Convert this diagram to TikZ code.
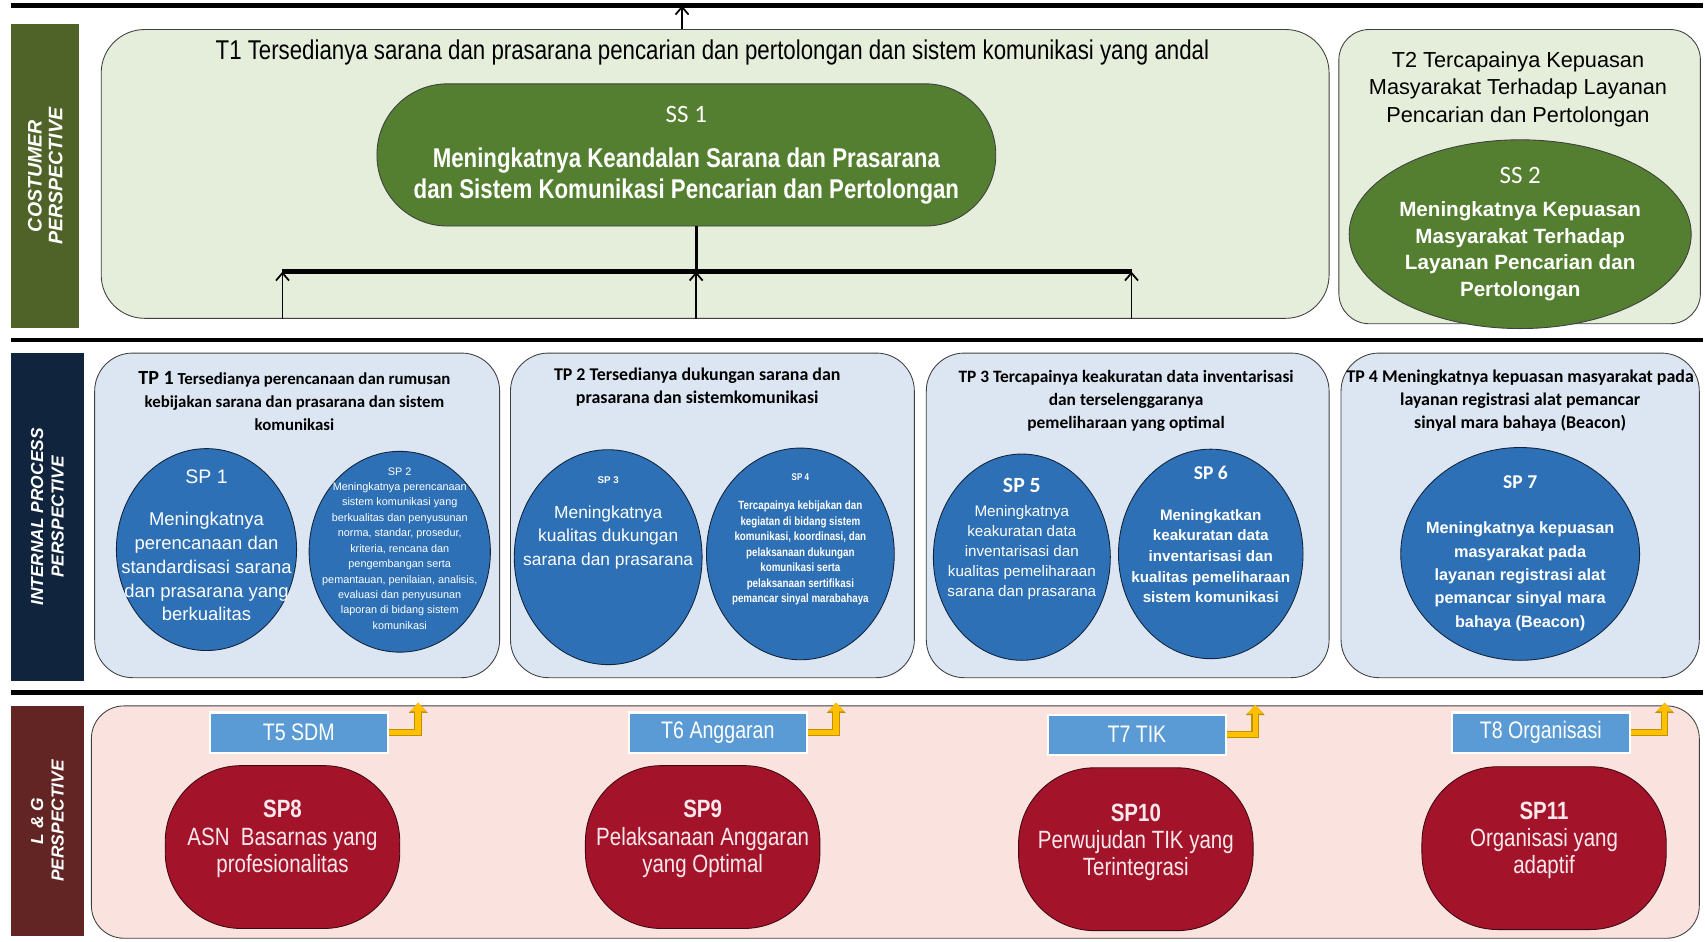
\documentclass[tikz,border=0pt]{standalone}
\usepackage{fontspec}
\setmainfont{Liberation Sans}
\newfontfamily\narrowfont{Liberation Sans}[FakeStretch=0.82]
\newfontfamily\califont{Carlito}
\usetikzlibrary{arrows.meta,shapes.geometric}
\definecolor{custband}{RGB}{79,98,40}
\definecolor{intband}{RGB}{16,36,62}
\definecolor{lgband}{RGB}{99,37,35}
\definecolor{goalgreen}{RGB}{228,238,218}
\definecolor{ssgreen}{RGB}{84,127,48}
\definecolor{tpblue}{RGB}{220,230,242}
\definecolor{spblue}{RGB}{46,112,182}
\definecolor{lgpink}{RGB}{250,226,222}
\definecolor{spred}{RGB}{163,20,42}
\definecolor{sgwhite}{RGB}{252,232,236}
\definecolor{tagblue}{RGB}{91,155,213}
\definecolor{arrowgold}{RGB}{255,192,0}
\definecolor{arrowedge}{RGB}{191,144,0}
\definecolor{edgegray}{RGB}{64,64,64}

\begin{document}
\begin{tikzpicture}[scale=1.000000,x=1pt,y=-1pt,
  bandlabel/.style={fill=#1,rotate=90,inner sep=0pt,align=center,text=white,font=\bfseries\itshape\fontsize{16}{19}\selectfont},
  goalbox/.style={draw=edgegray,fill=#1,line width=0.8pt,inner sep=0pt},
  titletext/.style={inner sep=0pt,align=center,text=black},
  sspill/.style={draw=edgegray,fill=ssgreen,line width=0.8pt,inner sep=0pt,text=white,align=center},
  spoval/.style={ellipse,draw=intband,fill=spblue,line width=0.8pt,inner sep=0pt},
  sptext/.style={inner sep=0pt,align=center,text=white},
  sgshape/.style={draw=black!60!spred,fill=spred,line width=0.8pt,rounded corners=70pt,minimum width=216pt,minimum height=150pt,inner sep=0pt},
  sgtext/.style={inner sep=0pt,align=center,text=sgwhite,font=\narrowfont\fontsize{23}{25}\selectfont},
  tagbox/.style={draw=white,fill=tagblue,line width=2pt,inner sep=0pt,minimum width=164pt,minimum height=37pt,text=white,font=\narrowfont\fontsize{22}{24}\selectfont},
  sepline/.style={draw=black,line width=4.5pt},
  barline/.style={draw=black,line width=4pt},
  uparrow/.style={draw=black,line width=1.6pt,-{Straight Barb[length=7pt,width=12pt]}},
  goldarrow/.style={draw=arrowgold,line width=5pt,-{Triangle[length=8pt,width=14pt]},preaction={draw=arrowedge,line width=7pt,-{Triangle[length=9.5pt,width=17pt]}}}]
\filldraw[color=white] (0.000000,0.000000) rectangle (1568.000000,867.000000);
% Drawing separators
\draw[sepline] (10.000000,5.000000) -- (1568.000000,5.000000);
\draw[sepline] (10.000000,313.000000) -- (1568.000000,313.000000);
\draw[sepline] (10.000000,638.000000) -- (1568.000000,638.000000);
% Done with separators; drawing perspective bands
\node[bandlabel=custband,minimum width=280pt,minimum height=63pt,font=\bfseries\itshape\fontsize{18}{19}\selectfont] (custlabel) at (41.500000,162.000000) {COSTUMER\\PERSPECTIVE};
\node[bandlabel=intband,minimum width=302pt,minimum height=67pt] (intlabel) at (43.500000,476.000000) {INTERNAL PROCESS\\PERSPECTIVE};
\node[bandlabel=lgband,minimum width=212pt,minimum height=67pt] (lglabel) at (43.500000,756.000000) {L \& G\\PERSPECTIVE};
% Done with bands; drawing costumer goals
\node[goalbox=goalgreen,rounded corners=40pt,minimum width=1131pt,minimum height=266pt] (ttone) at (658.500000,160.000000) {};
\node[titletext,font=\narrowfont\fontsize{25}{28}\selectfont] (ttonetitle) at (656.000000,48.000000) {T1 Tersedianya sarana dan prasarana pencarian dan pertolongan dan sistem komunikasi yang andal};
\node[sspill,rounded corners=65pt,minimum width=570pt,minimum height=131pt,font=\narrowfont\bfseries\fontsize{25}{28}\selectfont] (ssone) at (632.000000,142.500000) {{\califont\mdseries\fontsize{23}{28}\selectfont SS 1}\\[14pt]Meningkatnya Keandalan Sarana dan Prasarana\\dan Sistem Komunikasi Pencarian dan Pertolongan};
\node[goalbox=goalgreen,rounded corners=28pt,minimum width=333pt,minimum height=271pt] (ttwo) at (1399.500000,162.500000) {};
\node[titletext,font=\fontsize{20}{25.5}\selectfont] (ttwotitle) at (1398.000000,82.000000) {T2 Tercapainya Kepuasan\\Masyarakat Terhadap Layanan\\Pencarian dan Pertolongan};
\node[sspill,ellipse,minimum width=310pt,minimum height=150pt,font=\bfseries\fontsize{19}{24.5}\selectfont] (sstwo) at (1400.000000,215.500000) {{\califont\mdseries\fontsize{23}{24}\selectfont SS 2}\\[6pt]Meningkatnya Kepuasan\\Masyarakat Terhadap\\Layanan Pencarian dan\\Pertolongan};
% Connectors of T1
\coordinate (topbar) at (628.000000,5.000000);
\coordinate (barleft) at (260.000000,250.000000);
\coordinate (barmid) at (641.000000,250.000000);
\coordinate (barright) at (1042.000000,250.000000);
\draw[uparrow] (ttone.north -| topbar) -- (topbar);
\draw[barline] (barleft) -- (barright);
\draw[line width=2.5pt] (ssone.south -| barmid) -- (barmid);
\draw[uparrow] (ttone.south -| barleft) -- (barleft);
\draw[uparrow] (ttone.south -| barmid) -- (barmid);
\draw[uparrow] (ttone.south -| barright) -- (barright);
% Done with costumer goals; drawing internal process goals
\node[goalbox=tpblue,rounded corners=35pt,minimum width=373pt,minimum height=299pt] (tpone) at (273.500000,474.500000) {};
\node[titletext,font=\califont\bfseries\fontsize{15.5}{21}\selectfont] (tponetitle) at (271.000000,369.000000) {{\fontsize{18.5}{21}\selectfont TP 1} Tersedianya perencanaan dan rumusan\\kebijakan sarana dan prasarana dan sistem\\komunikasi};
\node[spoval,minimum width=166pt,minimum height=186pt] (spone) at (190.000000,506.000000) {};
\node[sptext,font=\fontsize{17}{22}\selectfont] (sponetext) at (190.000000,502.000000) {{\fontsize{18}{22}\selectfont SP 1}\\[17pt]Meningkatnya\\perencanaan dan\\standardisasi sarana\\dan prasarana yang\\berkualitas};
\node[spoval,minimum width=167pt,minimum height=185pt] (sptwo) at (368.000000,508.000000) {};
\node[sptext,font=\fontsize{10}{14.2}\selectfont] (sptwotext) at (368.000000,505.000000) {SP 2\\Meningkatnya perencanaan\\sistem komunikasi yang\\berkualitas dan penyusunan\\norma, standar, prosedur,\\kriteria, rencana dan\\pengembangan serta\\pemantauan, penilaian, analisis,\\evaluasi dan penyusunan\\laporan di bidang sistem\\komunikasi};
\node[goalbox=tpblue,rounded corners=35pt,minimum width=372pt,minimum height=299pt] (tptwo) at (656.000000,474.500000) {};
\node[titletext,font=\califont\bfseries\fontsize{16.5}{21}\selectfont] (tptwotitle) at (642.000000,356.500000) {TP 2 Tersedianya dukungan sarana dan\\prasarana dan sistemkomunikasi};
\node[spoval,minimum width=173pt,minimum height=198pt] (spthree) at (560.000000,513.000000) {};
\node[sptext,font=\fontsize{16}{21.5}\selectfont] (spthreetext) at (560.000000,481.500000) {{\bfseries\fontsize{9}{11}\selectfont SP 3}\\[10.5pt]Meningkatnya\\kualitas dukungan\\sarana dan prasarana};
\node[spoval,minimum width=173pt,minimum height=195pt] (spfour) at (737.000000,510.000000) {};
\node[sptext,font=\narrowfont\bfseries\fontsize{11}{14.3}\selectfont] (spfourtext) at (737.000000,496.500000) {{\fontsize{9}{11}\selectfont SP 4}\\[12.7pt]Tercapainya kebijakan dan\\kegiatan di bidang sistem\\komunikasi, koordinasi, dan\\pelaksanaan dukungan\\komunikasi serta\\pelaksanaan sertifikasi\\pemancar sinyal marabahaya};
\node[goalbox=tpblue,rounded corners=35pt,minimum width=371pt,minimum height=299pt] (tpthree) at (1038.500000,474.500000) {};
\node[titletext,font=\califont\bfseries\fontsize{16}{21}\selectfont] (tpthreetitle) at (1037.000000,369.000000) {TP 3 Tercapainya keakuratan data inventarisasi\\dan terselenggaranya\\pemeliharaan yang optimal};
\node[spoval,minimum width=163pt,minimum height=190pt] (spfive) at (941.000000,513.000000) {};
\node[sptext,font=\fontsize{14}{18.4}\selectfont] (spfivetext) at (941.000000,496.500000) {{\califont\bfseries\fontsize{20}{22}\selectfont SP 5}\\[3.6pt]Meningkatnya\\keakuratan data\\inventarisasi dan\\kualitas pemeliharaan\\sarana dan prasarana};
\node[spoval,minimum width=170pt,minimum height=193pt] (spsix) at (1115.000000,510.000000) {};
\node[sptext,font=\bfseries\fontsize{14}{19}\selectfont] (spsixtext) at (1115.000000,492.000000) {{\califont\fontsize{18}{20}\selectfont SP 6}\\[19pt]Meningkatkan\\keakuratan data\\inventarisasi dan\\kualitas pemeliharaan\\sistem komunikasi};
\node[goalbox=tpblue,rounded corners=35pt,minimum width=330pt,minimum height=299pt] (tpfour) at (1400.000000,474.500000) {};
\node[titletext,font=\califont\bfseries\fontsize{16.5}{21}\selectfont] (tpfourtitle) at (1400.000000,369.000000) {TP 4 Meningkatnya kepuasan masyarakat pada\\layanan registrasi alat pemancar\\sinyal mara bahaya (Beacon)};
\node[spoval,minimum width=220pt,minimum height=196pt] (spseven) at (1400.000000,510.000000) {};
\node[sptext,font=\bfseries\fontsize{15}{21.5}\selectfont] (spseventext) at (1400.000000,509.000000) {{\califont\fontsize{18}{20}\selectfont SP 7}\\[20.5pt]Meningkatnya kepuasan\\masyarakat pada\\layanan registrasi alat\\pemancar sinyal mara\\bahaya (Beacon)};
% Done with internal process goals; drawing L&G goals
\node[goalbox=lgpink,rounded corners=30pt,minimum width=1481pt,minimum height=214pt] (lgbox) at (824.500000,757.000000) {};
\node[tagbox] (tfive) at (275.000000,674.500000) {T5 SDM};
\node[tagbox] (tsix) at (661.000000,674.500000) {T6 Anggaran};
\node[tagbox] (tseven) at (1047.000000,676.500000) {T7 TIK};
\node[tagbox] (teight) at (1419.000000,674.500000) {T8 Organisasi};
\coordinate (tfivetip) at (385.000000,647.000000);
\coordinate (tsixtip) at (770.000000,647.000000);
\coordinate (tseventip) at (1156.000000,649.000000);
\coordinate (teighttip) at (1533.000000,647.000000);
\draw[goldarrow] (tfive.east) -| (tfivetip);
\draw[goldarrow] (tsix.east) -| (tsixtip);
\draw[goldarrow] (tseven.east) -| (tseventip);
\draw[goldarrow] (teight.east) -| (teighttip);
\node[sgshape] (speight) at (260.000000,780.000000) {};
\node[sgtext] (speighttext) at (260.000000,772.500000) {{\bfseries SP8}\\ASN\ \ Basarnas yang\\profesionalitas};
\node[sgshape] (spnine) at (647.000000,780.000000) {};
\node[sgtext] (spninetext) at (647.000000,772.500000) {{\bfseries SP9}\\Pelaksanaan Anggaran\\yang Optimal};
\node[sgshape] (spten) at (1046.000000,782.000000) {};
\node[sgtext] (sptentext) at (1046.000000,776.000000) {{\bfseries SP10}\\Perwujudan TIK yang\\Terintegrasi};
\node[sgshape,minimum width=225pt] (speleven) at (1422.000000,781.000000) {};
\node[sgtext] (speleventext) at (1422.000000,774.000000) {{\bfseries SP11}\\Organisasi yang\\adaptif};
% Done with L&G goals
\end{tikzpicture}
\end{document}
